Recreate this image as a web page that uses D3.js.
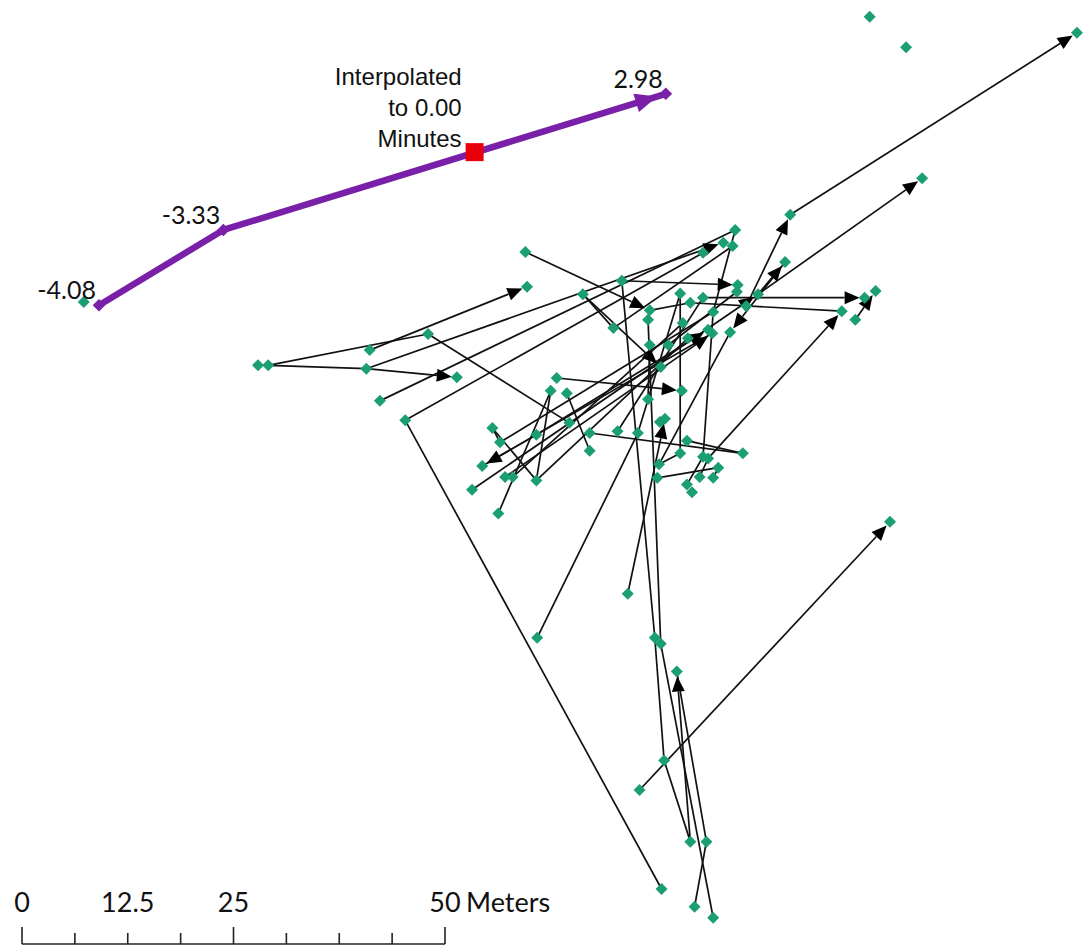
<!DOCTYPE html>
<html><head><meta charset="utf-8">
<script src="https://cdn.jsdelivr.net/npm/d3@7"></script>
<style>body{margin:0;background:#fff}</style></head>
<body><svg id="c" width="1088" height="951"></svg>
<script>
// Fix locations (metres east / north of the scale-bar origin)
const pointX=[27.9,29.1,41.1,40.7,48.0,51.4,42.3,45.3,59.5,59.7,
70.9,66.3,69.9,74.2,74.0,77.8,79.0,80.5,84.6,84.5,
80.5,82.9,84.0,84.3,90.8,90.2,87.0,85.6,81.7,81.1,
81.6,83.7,78.1,78.7,76.4,74.2,75.5,96.9,98.5,99.6,
100.9,106.4,124.7,100.2,104.5,74.0,78.0,63.2,62.5,64.4,
64.7,67.1,67.1,70.4,72.8,75.4,76.0,77.8,78.6,80.5,
81.1,85.2,75.3,75.1,82.3,81.7,78.6,79.2,80.1,55.6,
56.5,60.8,54.4,53.2,57.1,58.0,60.8,56.3,71.6,60.9,
74.8,75.5,77.4,75.9,73.0,102.6,79.0,80.9,75.6,79.5,
81.7,7.3];
const pointY=[68.4,68.4,70.2,68.0,72.1,67.0,64.2,61.9,81.8,77.7,
78.4,76.8,72.8,74.9,73.8,76.9,75.8,76.4,77.9,77.1,
81.7,82.9,82.5,84.4,86.2,80.6,76.8,75.4,74.7,72.6,
72.2,72.3,73.4,71.6,70.8,70.8,68.2,74.8,73.8,76.4,
77.2,90.5,107.7,109.6,106.0,64.4,65.4,66.9,65.4,65.1,
61.6,60.4,58.3,60.6,60.4,61.7,62.1,58.0,59.5,57.6,
57.4,58.0,56.7,55.1,56.3,55.1,54.3,53.4,55.2,61.0,
59.3,60.2,56.5,53.7,55.2,55.2,54.8,50.9,41.4,36.2,
36.2,35.5,32.2,21.7,18.2,49.9,12.1,12.1,6.5,4.4,
3.1,75.9];
// Movement vectors (index of start fix, index of end fix, arrow shown)
const segFrom=[1,2,1,3,4,3,6,27,7,7,8,10,10,11,12,24,26,26,73,17,16,38,60,74,30,70,75,76,71,69,48,76,49,47,51,78,79,15,28,80,83,86,82,87,14,81,84,53,54,62,58,57,59,64,68,11,25,23,35,13,34,69,72,63];
const segTo=[4,9,3,5,50,21,23,24,20,88,13,18,80,12,22,42,41,25,26,39,37,40,37,30,72,28,32,33,29,76,77,48,52,46,61,56,54,57,59,83,86,82,87,89,81,90,85,17,15,31,61,62,66,65,60,36,31,28,45,16,19,70,71,64];
const segArrow=[0,1,0,1,0,1,0,1,0,0,1,1,0,0,0,1,1,1,1,1,0,1,1,1,1,0,0,0,1,0,0,0,0,1,0,1,0,0,0,0,0,1,0,0,0,0,1,0,0,0,0,0,0,0,0,1,1,0,0,0,0,0,0,0];
// Tracked animal (minutes relative to interpolation time)
const trackTime=["-4.08","-3.33","2.98"];
const trackX=[9.1,23.8,76.1];
const trackY=[75.5,84.4,100.5];
const interpLabel=["Interpolated","to 0.00","Minutes"];
const interpX=53.5, interpY=93.6;
// Scale bar
const scaleTicks=[0,6.25,12.5,18.75,25,31.25,37.5,43.75,50];
const scaleLabels=[0,12.5,25,50];

const svg=d3.select("#c");
const x=d3.scaleLinear().domain([0,50]).range([22,445]);
const y=d3.scaleLinear().domain([0,50]).range([944,521]);

const px=i=>x(pointX[i]), py=i=>y(pointY[i]);

function arrowGeom(x1,y1,x2,y2,gap,L,W){
  const dx=x2-x1, dy=y2-y1, d=Math.hypot(dx,dy), ux=dx/d, uy=dy/d;
  const tx=x2-ux*gap, ty=y2-uy*gap, bx=tx-ux*L, by=ty-uy*L;
  return {tx,ty,bx,by,pts:[[tx,ty],[bx-uy*W,by+ux*W],[bx+uy*W,by-ux*W]]};
}

const gLines=svg.append("g"), gArr=svg.append("g"), gPts=svg.append("g");
segFrom.forEach((f,k)=>{
  const t=segTo[k];
  const x1=px(f),y1=py(f),x2=px(t),y2=py(t);
  let ex=x2, ey=y2;
  if(segArrow[k]){
    const a=arrowGeom(x1,y1,x2,y2,5,15,6.5);
    ex=a.bx; ey=a.by;
    gArr.append("path").attr("d","M"+a.pts.map(p=>p.join(",")).join("L")+"Z").attr("fill","#000");
  }
  gLines.append("line").attr("x1",x1).attr("y1",y1).attr("x2",ex).attr("y2",ey)
    .attr("stroke","#111").attr("stroke-width",1.7);
});
const dia=d3.symbol().type(d3.symbolSquare).size(72);
gPts.selectAll("path").data(pointX.map((_,i)=>i)).join("path")
  .attr("d",dia).attr("fill","#1a9e72")
  .attr("transform",i=>`translate(${px(i)},${py(i)}) rotate(45)`);

// Purple track
const line=d3.line().x((d,i)=>x(trackX[i])).y((d,i)=>y(trackY[i]));
svg.append("path").attr("d",line(trackX)).attr("fill","none").attr("stroke","#7a1fa8")
  .attr("stroke-width",6.5).attr("stroke-linejoin","round");
const n=trackX.length;
const pa=arrowGeom(x(trackX[n-2]),y(trackY[n-2]),x(trackX[n-1]),y(trackY[n-1]),9,22,9.5);
svg.append("path").attr("d","M"+pa.pts.map(p=>p.join(",")).join("L")+"Z").attr("fill","#7a1fa8");
svg.selectAll(".tv").data(trackX).join("path").attr("class","tv")
  .attr("d",d3.symbol().type(d3.symbolSquare).size(80)).attr("fill","#7a1fa8")
  .attr("transform",(d,i)=>`translate(${x(trackX[i])},${y(trackY[i])}) rotate(45)`);
svg.selectAll(".tl").data(trackTime).join("text").attr("class","tl")
  .attr("x",(d,i)=>x(trackX[i])-3).attr("y",(d,i)=>y(trackY[i])-6)
  .attr("text-anchor","end").attr("font-family","Lato, sans-serif").attr("font-size",25)
  .attr("fill","#111").text(d=>d);
// Interpolated point
svg.append("rect").attr("x",x(interpX)-9).attr("y",y(interpY)-9).attr("width",18).attr("height",18).attr("fill","#e8000b");
svg.selectAll(".il").data(interpLabel).join("text").attr("class","il")
  .attr("x",x(interpX)-13).attr("y",(d,i)=>y(interpY)-5-(interpLabel.length-1-i)*31)
  .attr("text-anchor","end").attr("font-family","Liberation Sans, Arial, sans-serif")
  .attr("font-size",24).attr("fill","#111").text(d=>d);

// Scale bar
const sb=svg.append("g");
sb.append("line").attr("x1",x(0)).attr("x2",x(50)).attr("y1",944).attr("y2",944).attr("stroke","#222").attr("stroke-width",1.6);
sb.selectAll(".tk").data(scaleTicks).join("line").attr("class","tk")
  .attr("x1",d=>x(d)).attr("x2",d=>x(d)).attr("y1",d=>d%25===0?927:933).attr("y2",944)
  .attr("stroke","#222").attr("stroke-width",1.6);
sb.selectAll(".sl").data(scaleLabels).join("text").attr("class","sl")
  .attr("x",d=>x(d)).attr("y",912).attr("text-anchor","middle")
  .attr("font-family","Lato, sans-serif").attr("font-size",27).attr("fill","#111").text(d=>d);
sb.append("text").attr("x",x(50)+21).attr("y",912).attr("font-family","Lato, sans-serif")
  .attr("font-size",27).attr("fill","#111").text("Meters");
</script></body></html>
